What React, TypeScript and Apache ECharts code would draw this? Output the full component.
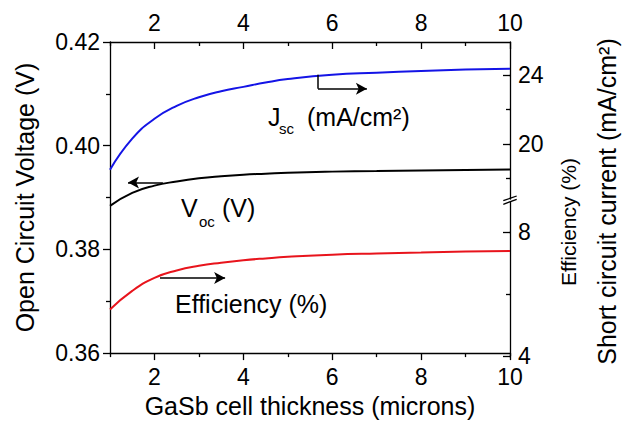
import React, { useEffect, useRef } from "react";
import * as echarts from "echarts";

// GaSb cell thickness (microns)
const thickness = [1, 1.5, 2, 2.5, 3, 3.5, 4, 4.5, 5, 6, 7, 8, 9, 10];
// Open circuit voltage (V)
const voc = [0.3884, 0.3909, 0.3923, 0.3931, 0.3937, 0.3941, 0.3944, 0.3946, 0.3948, 0.395, 0.3951, 0.3952, 0.3953, 0.3954];
// Short circuit current (mA/cm2)
const jsc = [18.5, 20.3, 21.45, 22.2, 22.7, 23.05, 23.3, 23.55, 23.75, 24.0, 24.12, 24.22, 24.3, 24.35];
// Efficiency (%)
const eff = [5.5, 6.1, 6.52, 6.76, 6.91, 7.01, 7.09, 7.15, 7.2, 7.27, 7.31, 7.34, 7.37, 7.39];

const xMajor = [2, 4, 6, 8, 10];
const xMinor = [1, 3, 5, 7, 9];
const vocMajor = [0.36, 0.38, 0.4, 0.42];
const vocMinor = [0.37, 0.39, 0.41];
const jscMajor = [20, 24];
const jscMinor = [18, 22];
const effMajor = [4, 8];
const effMinor = [6];

// arrow annotations (data coordinates)
const vocArrow = [[2.19, 0.3929], [1.405, 0.3929]];
const jscArrowV = [[5.68, 24.0], [5.68, 23.19]];
const jscArrowH = [[5.68, 23.19], [6.78, 23.19]];
const effArrow = [[2.125, 6.52], [3.59, 6.52]];

const FONT = '"Liberation Sans", Arial, sans-serif';
const AX = { color: "#000", width: 1.3 };

function majorX(pos: string, inside: boolean, showLabel: boolean, grid = 0, name?: string) {
  return {
    type: "value",
    gridIndex: grid,
    position: pos,
    min: 1,
    max: 10,
    axisLine: { show: true, lineStyle: AX },
    axisTick: { show: true, inside, length: 7, lineStyle: AX, customValues: xMajor },
    axisLabel: {
      show: showLabel,
      customValues: xMajor,
      fontSize: 23,
      fontFamily: FONT,
      color: "#000",
      margin: pos === "top" ? 8 : 12,
    },
    splitLine: { show: false },
    name,
    nameLocation: "middle",
    nameGap: 33,
    nameTextStyle: { fontSize: 25, fontFamily: FONT, color: "#000" },
  };
}
function minorX(pos: string, inside: boolean) {
  return {
    type: "value",
    gridIndex: 0,
    position: pos,
    min: 1,
    max: 10,
    axisLine: { show: false },
    axisTick: { show: true, inside, length: 4, lineStyle: AX, customValues: xMinor },
    axisLabel: { show: false },
    splitLine: { show: false },
  };
}
function hiddenX(grid: number) {
  return { type: "value", gridIndex: grid, min: 1, max: 10, show: false, splitLine: { show: false } };
}
function yAx(opts: any) {
  const { grid, pos, min, max, major, minor, inside, label, fmt, minorOnly, name } = opts;
  return {
    type: "value",
    gridIndex: grid,
    position: pos,
    min,
    max,
    axisLine: { show: !minorOnly, lineStyle: AX },
    axisTick: { show: true, inside, length: minorOnly ? 4 : 7, lineStyle: AX, customValues: minorOnly ? minor : major },
    axisLabel: {
      show: !minorOnly && label,
      customValues: major,
      fontSize: 23,
      fontFamily: FONT,
      color: "#000",
      margin: pos === "left" ? 10 : 8,
      formatter: fmt,
    },
    splitLine: { show: false },
    name,
    nameLocation: "middle",
    nameGap: 73,
    nameRotate: 90,
    nameTextStyle: { fontSize: 25, fontFamily: FONT, color: "#000" },
  };
}

function arrowLine(a: number[][], withArrow: boolean) {
  return [
    { coord: a[0], symbol: "none" },
    { coord: a[1], symbol: withArrow ? "arrow" : "none" },
  ];
}

function txt(text: string, x: number, y: number, size: number, extra: any = {}) {
  return {
    type: "text",
    x,
    y,
    silent: true,
    ...extra,
    style: {
      text,
      fontSize: size,
      fontFamily: FONT,
      fill: "#000",
      align: extra.align || "left",
      verticalAlign: "middle",
    },
  };
}

export default function App() {
  const ref = useRef<HTMLDivElement>(null);
  useEffect(() => {
    if (!ref.current) return;
    const chart = echarts.init(ref.current, undefined, { renderer: "svg" });
    const ml = {
      silent: true,
      symbolSize: [9, 11],
      label: { show: false },
      lineStyle: { color: "#000", width: 1.5, type: "solid" },
      emphasis: { disabled: true },
    };
    const lineBase = { type: "line", smooth: true, showSymbol: false };
    chart.setOption({
      animation: false,
      backgroundColor: "#fff",
      grid: [
        { left: 110, top: 42, width: 400, height: 314 },
        { left: 110, top: 42, width: 400, height: 157 },
        { left: 110, top: 202, width: 400, height: 154 },
      ],
      xAxis: [
        majorX("bottom", false, true, 0, "GaSb cell thickness (microns)"),
        minorX("bottom", false),
        majorX("top", true, true, 0),
        minorX("top", true),
        hiddenX(1),
        hiddenX(2),
      ],
      yAxis: [
        yAx({ grid: 0, pos: "left", min: 0.36, max: 0.42, major: vocMajor, inside: false, label: true, fmt: (v: number) => v.toFixed(2), name: "Open Circuit Voltage (V)" }),
        yAx({ grid: 0, pos: "left", min: 0.36, max: 0.42, minor: vocMinor, inside: false, minorOnly: true }),
        yAx({ grid: 1, pos: "right", min: 16.8, max: 25.9, major: jscMajor, inside: true, label: true }),
        yAx({ grid: 1, pos: "right", min: 16.8, max: 25.9, minor: jscMinor, inside: true, minorOnly: true }),
        yAx({ grid: 2, pos: "right", min: 4, max: 8.97, major: effMajor, inside: true, label: true }),
        yAx({ grid: 2, pos: "right", min: 4, max: 8.97, minor: effMinor, inside: true, minorOnly: true }),
      ],
      series: [
        {
          ...lineBase,
          name: "Voc",
          xAxisIndex: 0,
          yAxisIndex: 0,
          data: thickness.map((x, i) => [x, voc[i]]),
          lineStyle: { color: "#000", width: 2 },
          markLine: { ...ml, data: [arrowLine(vocArrow, true)] },
        },
        {
          ...lineBase,
          name: "Jsc",
          xAxisIndex: 4,
          yAxisIndex: 2,
          data: thickness.map((x, i) => [x, jsc[i]]),
          lineStyle: { color: "#1414E6", width: 2 },
          markLine: { ...ml, data: [arrowLine(jscArrowV, false), arrowLine(jscArrowH, true)] },
        },
        {
          ...lineBase,
          name: "Efficiency",
          xAxisIndex: 5,
          yAxisIndex: 4,
          data: thickness.map((x, i) => [x, eff[i]]),
          lineStyle: { color: "#E8141C", width: 2 },
          markLine: { ...ml, data: [arrowLine(effArrow, true)] },
        },
      ],
      graphic: [
        txt("J", 268, 117, 25),
        txt("sc", 279, 128, 15),
        txt("(mA/cm²)", 307, 117, 25),
        txt("V", 181, 207.5, 25),
        txt("oc", 199, 221.5, 15),
        txt("(V)", 222, 207.5, 25),
        txt("Efficiency (%)", 175, 304, 25),
        txt("Efficiency (%)", 568, 222, 21, { rotation: Math.PI / 2, align: "center" }),
        txt("Short circuit current (mA/cm²)", 607, 201.5, 25, { rotation: Math.PI / 2, align: "center" }),
        { type: "line", silent: true, shape: { x1: 503.3, y1: 200.7, x2: 516.7, y2: 196 }, style: { stroke: "#000", lineWidth: 1.3 } },
        { type: "line", silent: true, shape: { x1: 503.3, y1: 204.3, x2: 516.7, y2: 199.3 }, style: { stroke: "#000", lineWidth: 1.3 } },
      ],
    });
    return () => chart.dispose();
  }, []);
  return <div ref={ref} style={{ position: "fixed", left: 0, top: 0, width: 632, height: 423, background: "#fff" }} />;
}
